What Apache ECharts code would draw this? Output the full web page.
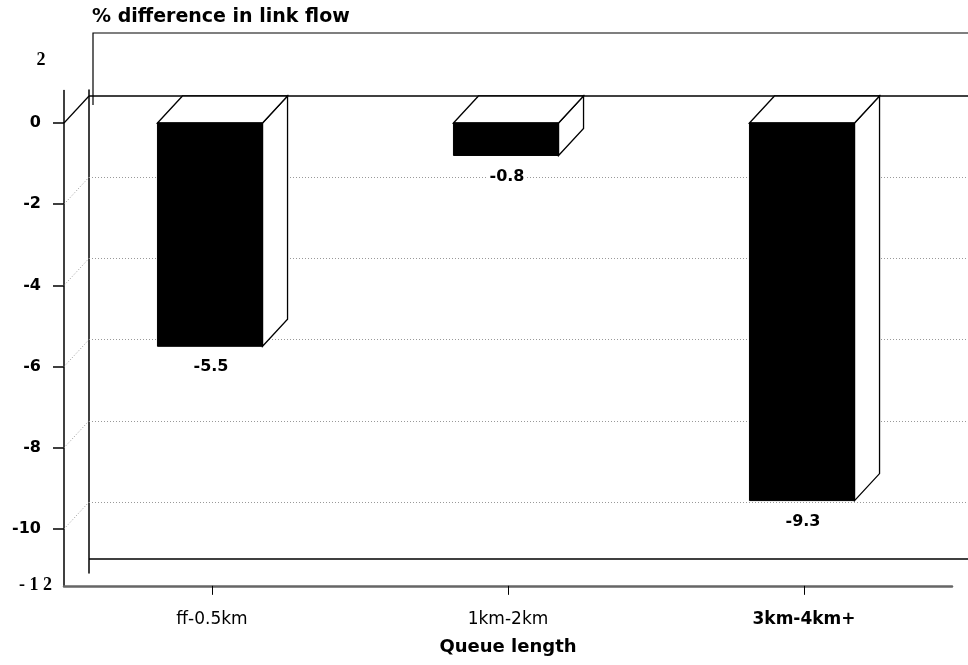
<!DOCTYPE html>
<html><head><meta charset="utf-8">
<script src="https://cdn.jsdelivr.net/npm/echarts@6/dist/echarts.min.js"></script>
<style>html,body{margin:0;padding:0;background:#fff}#c{width:968px;height:665px}</style>
</head><body><div id="c"></div>
<script>
// ---- data ----
const categories = ['ff-0.5km', '1km-2km', '3km-4km+'];
const values = [-5.5, -0.8, -9.3];
const yTickValues = [0, -2, -4, -6, -8, -10];
const backLineValues = [0, -2, -4, -6, -8, -10];
const floorValue = -11.4;
const extraTopLabel = '2';
const extraBottomLabel = '- 1 2';
const xAxisName = 'Queue length';
const titleText = '% difference in link flow';

// ---- layout ----
const PX = 40.6;          // pixels per unit
const DX = 25, DY = 27;   // 3D depth offset
const FRONT_MIN = -11.4, FRONT_MAX = 0.8;
const BACK_MIN = -11.75, BACK_MAX = 0.15;
const ZERO_FRONT = 123, ZERO_BACK = 96;

const g1Top = ZERO_FRONT - FRONT_MAX * PX;
const g1Height = (FRONT_MAX - FRONT_MIN) * PX;
const g2Top = ZERO_BACK - BACK_MAX * PX;
const g2Height = (BACK_MAX - BACK_MIN) * PX;

const font = 'DejaVu Sans, Verdana, sans-serif';
const serif = 'Liberation Serif, Times New Roman, serif';

const chart = echarts.init(document.getElementById('c'), null, {renderer: 'canvas'});

chart.setOption({
  animation: false,
  backgroundColor: '#fff',
  title: {
    text: titleText, left: 87, top: 3,
    textStyle: {fontFamily: font, fontSize: 19, fontWeight: 'bold', color: '#000'}
  },
  grid: [
    {left: 64, right: 16, top: g1Top, height: g1Height},
    {left: 89, right: 0, top: g2Top, height: g2Height}
  ],
  xAxis: [
    {
      type: 'category', gridIndex: 0, data: categories,
      axisLine: {onZero: false, lineStyle: {color: '#666', width: 2.5}},
      axisTick: {show: true, alignWithLabel: true, length: 9, lineStyle: {color: '#000', width: 1}},
      axisLabel: {
        margin: 25,
        formatter: (v, i) => i === 2 ? '{b|' + v + '}' : '{n|' + v + '}',
        rich: {
          n: {fontFamily: font, fontSize: 17, color: '#000'},
          b: {fontFamily: font, fontSize: 17, fontWeight: 'bold', color: '#000'}
        }
      },
      name: xAxisName, nameLocation: 'middle', nameGap: 52,
      nameTextStyle: {fontFamily: font, fontSize: 18, fontWeight: 'bold', color: '#000'}
    },
    {type: 'value', gridIndex: 1, min: 0, max: 1, show: false}
  ],
  yAxis: [
    {
      type: 'value', gridIndex: 0, min: FRONT_MIN, max: FRONT_MAX,
      axisLine: {show: true, onZero: false, lineStyle: {color: '#000', width: 1.5}},
      axisTick: {show: true, length: 11, customValues: yTickValues, lineStyle: {color: '#000', width: 1.5}},
      axisLabel: {
        show: true, margin: 23, customValues: yTickValues,
        fontFamily: font, fontSize: 16, fontWeight: 'bold', color: '#000'
      },
      splitLine: {show: false}
    },
    {
      type: 'value', gridIndex: 1, min: BACK_MIN, max: BACK_MAX,
      axisLine: {show: true, onZero: false, lineStyle: {color: '#000', width: 1.5}},
      axisTick: {show: false}, axisLabel: {show: false}, splitLine: {show: false}
    }
  ],
  series: [
    {
      type: 'line', xAxisIndex: 1, yAxisIndex: 1, data: [], z: 1,
      markLine: {
        silent: true, symbol: 'none', label: {show: false},
        data: backLineValues.map(v => ({
          yAxis: v,
          lineStyle: v === 0 ? {color: '#000', width: 1.5, type: 'solid'}
                             : {color: '#999', width: 1, type: [1, 2]}
        })).concat([{yAxis: floorValue, lineStyle: {color: '#000', width: 1.5, type: 'solid'}}])
      }
    },
    {
      type: 'custom', xAxisIndex: 0, yAxisIndex: 0, z: 2, silent: true,
      data: yTickValues.map(v => [0, v]),
      renderItem: (params, api) => {
        const v = api.value(1);
        const y = api.coord([0, v])[1];
        const x = params.coordSys.x;
        return {
          type: 'line',
          shape: {x1: x, y1: y, x2: x + DX, y2: y - DY},
          style: v === 0 ? {stroke: '#000', lineWidth: 1.2}
                         : {stroke: '#999', lineWidth: 1, lineDash: [1, 2]}
        };
      }
    },
    {
      type: 'custom', xAxisIndex: 0, yAxisIndex: 0, z: 5,
      data: values.map((v, i) => [i, v]),
      renderItem: (params, api) => {
        const i = api.value(0), v = api.value(1);
        const p0 = api.coord([i, 0]);
        const p1 = api.coord([i, v]);
        const bw = api.size([1, 0])[0] * 0.355;
        const cx = p0[0] - 2;
        const xl = cx - bw / 2, xr = cx + bw / 2, yt = p0[1], yb = p1[1];
        const st = {fill: '#fff', stroke: '#000', lineWidth: 1.3};
        return {
          type: 'group',
          children: [
            {type: 'polygon', shape: {points: [[xr, yt], [xr + DX, yt - DY], [xr + DX, yb - DY], [xr, yb]]}, style: st},
            {type: 'polygon', shape: {points: [[xl, yt], [xl + DX, yt - DY], [xr + DX, yt - DY], [xr, yt]]}, style: st},
            {type: 'rect', shape: {x: xl, y: yt, width: bw, height: yb - yt}, style: {fill: '#000', stroke: '#000', lineWidth: 1}},
            {type: 'text', x: cx + 1, y: yb + 21, style: {
              text: String(v), fontFamily: font, fontSize: 16, fontWeight: 'bold',
              fill: '#000', align: 'center', verticalAlign: 'middle',
              backgroundColor: '#fff', padding: [0, 2]
            }}
          ]
        };
      }
    }
  ],
  graphic: [
    {type: 'polyline', shape: {points: [[93, 105], [93, 33], [968, 33]]}, style: {stroke: '#000', lineWidth: 1.2, fill: null}},
    {type: 'text', x: 41, y: 60, style: {text: extraTopLabel, fontFamily: serif, fontSize: 18, fontWeight: 'bold', fill: '#000', align: 'center', verticalAlign: 'middle'}},
    {type: 'text', x: 52, y: 585, style: {text: extraBottomLabel, fontFamily: serif, fontSize: 18, fontWeight: 'bold', fill: '#000', align: 'right', verticalAlign: 'middle'}}
  ]
});
</script>
</body></html>
